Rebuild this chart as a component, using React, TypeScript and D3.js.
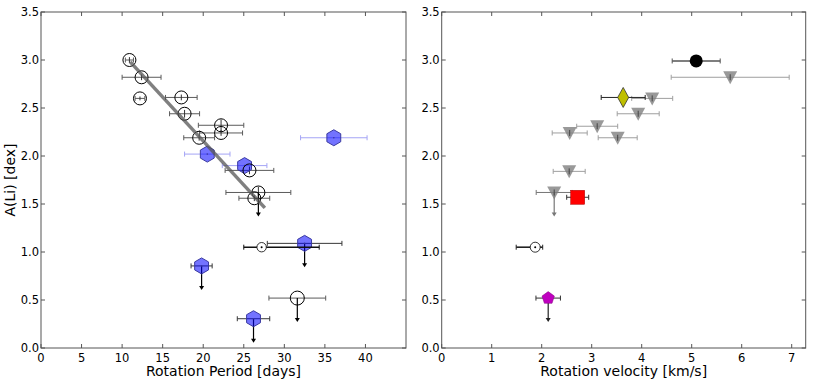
import React from "react";
import * as d3 from "d3";

// ---- left panel: A(Li) vs rotation period ----
const openPeriod = [10.9, 12.4, 12.2, 17.3, 17.7, 22.2, 22.2, 19.5, 25.7, 26.8, 26.3, 31.6];
const openALi = [3.0, 2.82, 2.6, 2.61, 2.44, 2.32, 2.24, 2.19, 1.85, 1.62, 1.56, 0.52];
const openPErr = [0.5, 2.4, 0.6, 1.95, 1.85, 2.8, 2.65, 1.9, 3.0, 4.0, 1.9, 3.5];
const openALiErr = [0.03, 0.03, 0.02, 0.03, 0.04, 0.06, 0.03, 0.03, 0.04, 0.06, 0.03, 0.0];
const openUpper = [false, false, false, false, false, false, false, false, false, true, false, true];

const hexPeriod = [36.1, 20.5, 25.1, 32.5, 19.8, 26.2];
const hexALi = [2.19, 2.02, 1.9, 1.09, 0.855, 0.305];
const hexPErr = [4.1, 2.8, 2.75, 4.6, 1.3, 2.0];
const hexUpper = [false, false, false, true, true, true];

const sunPeriod = 27.2;
const sunPeriodErrLo = 2.2;
const sunPeriodErrHi = 7.1;
const sunALi = 1.05;

const fitPeriod = [11.0, 27.6];
const fitALi = [2.98, 1.46];

// ---- right panel: A(Li) vs rotation velocity ----
const triVel = [5.77, 4.21, 3.93, 3.11, 2.56, 3.52, 2.55, 2.25];
const triALi = [2.82, 2.6, 2.44, 2.31, 2.24, 2.19, 1.84, 1.62];
const triVelErr = [1.18, 0.41, 0.42, 0.41, 0.35, 0.39, 0.32, 0.36];
const triUpper = [false, false, false, false, false, false, false, true];

const dotVel = 5.09, dotALi = 2.99, dotVelErr = 0.48;
const diamondVel = 3.63, diamondALi = 2.61, diamondVelErr = 0.44;
const squareVel = 2.72, squareALi = 1.57, squareVelErr = 0.22;
const pentVel = 2.13, pentALi = 0.52, pentVelErr = 0.245;
const sunVel = 1.87, sunVelErrLo = 0.38, sunVelErrHi = 0.15;

const limitArrow = 0.25;

const yTicks = [0, 0.5, 1, 1.5, 2, 2.5, 3, 3.5];
const periodTicks = [0, 5, 10, 15, 20, 25, 30, 35, 40];
const velTicks = [0, 1, 2, 3, 4, 5, 6, 7];

const FONT = "DejaVu Sans, sans-serif";
const TOP = 12, BOTTOM = 348;

function polygon(cx: number, cy: number, r: number, n: number, rot: number) {
  const pts: string[] = [];
  for (let i = 0; i < n; i++) {
    const a = rot + (i * 2 * Math.PI) / n;
    pts.push(`${cx + r * Math.sin(a)},${cy - r * Math.cos(a)}`);
  }
  return pts.join(" ");
}

function XErr({ x, y, lo, hi, color = "#333", w = 1, op = 1 }: any) {
  const c = 2.5;
  return (
    <g stroke={color} strokeWidth={w} opacity={op}>
      <line x1={lo} x2={hi} y1={y} y2={y} />
      <line x1={lo} x2={lo} y1={y - c} y2={y + c} strokeWidth={1} />
      <line x1={hi} x2={hi} y1={y - c} y2={y + c} strokeWidth={1} />
    </g>
  );
}

function Arrow({ x, y1, y2, color = "#000", op = 1 }: any) {
  return (
    <g opacity={op}>
      <line x1={x} x2={x} y1={y1} y2={y2 - 3} stroke={color} strokeWidth={1.2} />
      <polygon points={`${x - 2.5},${y2 - 4} ${x + 2.5},${y2 - 4} ${x},${y2}`} fill={color} />
    </g>
  );
}

function Frame({ x, y, xTicks, yLabel, xLabel, xFmt }: any) {
  const [x0, x1] = x.range();
  return (
    <g fontFamily={FONT} fontSize={11.5} fill="#000">
      <rect x={x0} y={TOP} width={x1 - x0} height={BOTTOM - TOP} fill="none" stroke="#555" strokeWidth={1} />
      {xTicks.map((t: number) => (
        <g key={"x" + t}>
          <line x1={x(t)} x2={x(t)} y1={BOTTOM} y2={BOTTOM - 4} stroke="#555" />
          <line x1={x(t)} x2={x(t)} y1={TOP} y2={TOP + 4} stroke="#555" />
          <text x={x(t)} y={BOTTOM + 13.5} textAnchor="middle">{xFmt(t)}</text>
        </g>
      ))}
      {yTicks.map((t) => (
        <g key={"y" + t}>
          <line x1={x0} x2={x0 + 4} y1={y(t)} y2={y(t)} stroke="#555" />
          <line x1={x1} x2={x1 - 4} y1={y(t)} y2={y(t)} stroke="#555" />
          <text x={x0 - 2} y={y(t) + 4} textAnchor="end">{t.toFixed(1)}</text>
        </g>
      ))}
      <text x={(x0 + x1) / 2} y={BOTTOM + 28} textAnchor="middle" fontSize={14}>{xLabel}</text>
      {yLabel && (
        <text transform={`translate(15,${(TOP + BOTTOM) / 2}) rotate(-90)`} textAnchor="middle" fontSize={14}>
          {yLabel}
        </text>
      )}
    </g>
  );
}

function LeftPanel() {
  const x = d3.scaleLinear().domain([0, 45]).range([41, 406]);
  const y = d3.scaleLinear().domain([0, 3.5]).range([BOTTOM, TOP]);
  const fitLine = d3.line<number>().x((d) => x(fitPeriod[d])).y((d) => y(fitALi[d]));
  return (
    <g>
      {/* open circles: error bars */}
      {openPeriod.map((p, i) => (
        <g key={"oe" + i}>
          <XErr x={x(p)} y={y(openALi[i])} lo={x(p - openPErr[i])} hi={x(p + openPErr[i])} color="#333" op={0.8} />
          {openALiErr[i] > 0 && (
            <line x1={x(p)} x2={x(p)} y1={y(openALi[i] - openALiErr[i])} y2={y(openALi[i] + openALiErr[i])} stroke="#333" />
          )}
          {openUpper[i] && <Arrow x={x(p)} y1={y(openALi[i])} y2={y(openALi[i] - limitArrow)} />}
        </g>
      ))}
      {/* hexagons */}
      {hexPeriod.map((p, i) => (
        <g key={"h" + i}>
          <XErr
            x={x(p)}
            y={y(hexALi[i])}
            lo={x(p - hexPErr[i])}
            hi={x(p + hexPErr[i])}
            color={hexUpper[i] ? "#222" : "#6a6af0"}
            op={hexUpper[i] ? 0.9 : 0.6}
          />
          {hexUpper[i] && <Arrow x={x(p)} y1={y(hexALi[i])} y2={y(hexALi[i] - limitArrow)} />}
          <polygon points={polygon(x(p), y(hexALi[i]), 8, 6, 0)} fill="#0000ff" fillOpacity={0.55} stroke="#3a3aa0" strokeWidth={1} />
          <circle cx={x(p)} cy={y(hexALi[i])} r={0.8} fill="#3a3aa0" />
        </g>
      ))}
      {/* open circle markers */}
      {openPeriod.map((p, i) => (
        <circle key={"o" + i} cx={x(p)} cy={y(openALi[i])} r={i === 11 ? 7 : 6.5} fill="none" stroke="#000" strokeWidth={1} />
      ))}
      {/* sun */}
      <XErr x={x(sunPeriod)} y={y(sunALi)} lo={x(sunPeriod - sunPeriodErrLo)} hi={x(sunPeriod + sunPeriodErrHi)} color="#111" w={1.6} />
      <circle cx={x(sunPeriod)} cy={y(sunALi)} r={4.7} fill="#fff" stroke="#000" strokeWidth={0.8} />
      <circle cx={x(sunPeriod)} cy={y(sunALi)} r={1} fill="#000" />
      {/* linear fit */}
      <path d={fitLine([0, 1]) || ""} stroke="#555" strokeOpacity={0.75} strokeWidth={3.5} fill="none" />
      <Frame x={x} y={y} xTicks={periodTicks} yLabel="A(Li) [dex]" xLabel="Rotation Period [days]" xFmt={(t: number) => String(t)} />
    </g>
  );
}

function RightPanel() {
  const x = d3.scaleLinear().domain([0, 7.28]).range([441.7, 805.7]);
  const y = d3.scaleLinear().domain([0, 3.5]).range([BOTTOM, TOP]);
  const tri = (cx: number, cy: number) => `${cx - 7},${cy - 6} ${cx + 7},${cy - 6} ${cx},${cy + 7}`;
  return (
    <g>
      {triVel.map((v, i) => (
        <g key={"t" + i}>
          <XErr
            x={x(v)}
            y={y(triALi[i])}
            lo={x(v - triVelErr[i])}
            hi={x(v + triVelErr[i])}
            color={triUpper[i] ? "#555" : "#888"}
            op={0.8}
          />
          {triUpper[i] && <Arrow x={x(v)} y1={y(triALi[i])} y2={y(triALi[i] - limitArrow)} color="#777" />}
          <polygon points={tri(x(v), y(triALi[i]))} fill="#808080" fillOpacity={0.8} />
          <line x1={x(v)} x2={x(v)} y1={y(triALi[i]) - 3} y2={y(triALi[i]) + 3} stroke="#444" />
        </g>
      ))}
      {/* black dot */}
      <XErr x={x(dotVel)} y={y(dotALi)} lo={x(dotVel - dotVelErr)} hi={x(dotVel + dotVelErr)} color="#555" w={1.5} />
      <circle cx={x(dotVel)} cy={y(dotALi)} r={6.5} fill="#000" />
      {/* diamond */}
      <XErr x={x(diamondVel)} y={y(diamondALi)} lo={x(diamondVel - diamondVelErr)} hi={x(diamondVel + diamondVelErr)} color="#222" />
      <polygon
        points={`${x(diamondVel)},${y(diamondALi) - 10} ${x(diamondVel) + 5.5},${y(diamondALi)} ${x(diamondVel)},${y(diamondALi) + 10} ${x(diamondVel) - 5.5},${y(diamondALi)}`}
        fill="#bfbf00"
        stroke="#333"
        strokeWidth={0.8}
      />
      {/* square */}
      <XErr x={x(squareVel)} y={y(squareALi)} lo={x(squareVel - squareVelErr)} hi={x(squareVel + squareVelErr)} color="#333" />
      <rect x={x(squareVel) - 7} y={y(squareALi) - 7} width={14} height={14} fill="#ff0000" stroke="#aa0000" strokeWidth={0.5} />
      {/* sun */}
      <XErr x={x(sunVel)} y={y(sunALi)} lo={x(sunVel - sunVelErrLo)} hi={x(sunVel + sunVelErrHi)} color="#222" w={1.6} />
      <circle cx={x(sunVel)} cy={y(sunALi)} r={5} fill="#fff" stroke="#000" strokeWidth={0.8} />
      <circle cx={x(sunVel)} cy={y(sunALi)} r={1} fill="#000" />
      {/* pentagon */}
      <XErr x={x(pentVel)} y={y(pentALi)} lo={x(pentVel - pentVelErr)} hi={x(pentVel + pentVelErr)} color="#333" />
      <Arrow x={x(pentVel)} y1={y(pentALi)} y2={y(pentALi - limitArrow)} color="#222" />
      <polygon points={polygon(x(pentVel), y(pentALi), 6.5, 5, 0)} fill="#bf00bf" stroke="#800080" strokeWidth={0.5} />
      <Frame x={x} y={y} xTicks={velTicks} yLabel={null} xLabel="Rotation velocity [km/s]" xFmt={(t: number) => String(t)} />
    </g>
  );
}

export default function App() {
  return (
    <svg width={830} height={388} style={{ position: "absolute", left: 0, top: 0, background: "#fff" }}>
      <rect width={830} height={388} fill="#fff" />
      <LeftPanel />
      <RightPanel />
    </svg>
  );
}
